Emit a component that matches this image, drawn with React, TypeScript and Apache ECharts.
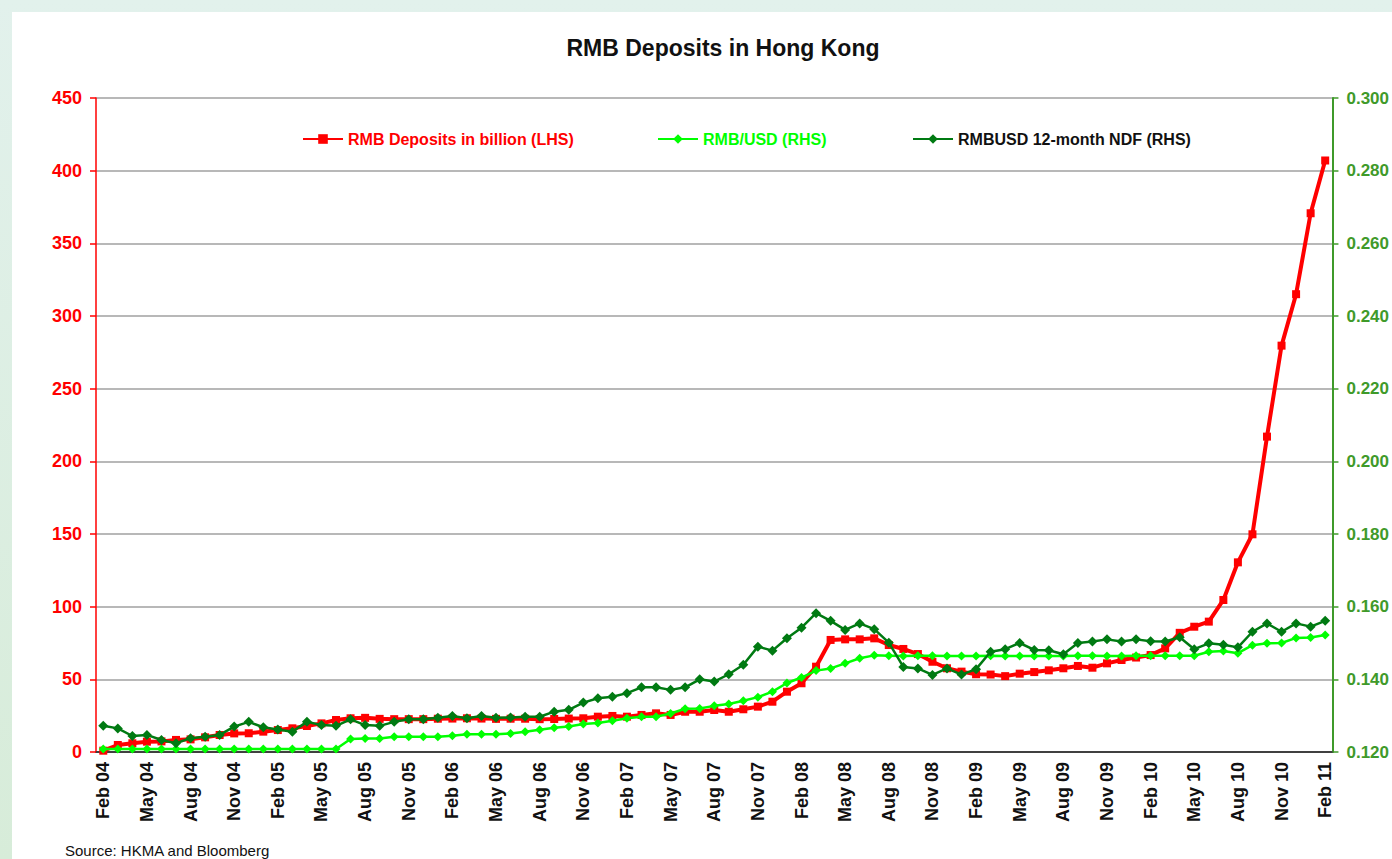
import React, { useEffect, useRef } from "react";
import * as echarts from "echarts";

const FONT = "'Liberation Sans', Arial, sans-serif";

const months: string[] = [
  "Feb 04", "Mar 04", "Apr 04", "May 04", "Jun 04", "Jul 04", "Aug 04", "Sep 04", "Oct 04", "Nov 04", "Dec 04",
  "Jan 05", "Feb 05", "Mar 05", "Apr 05", "May 05", "Jun 05", "Jul 05", "Aug 05", "Sep 05", "Oct 05", "Nov 05", "Dec 05",
  "Jan 06", "Feb 06", "Mar 06", "Apr 06", "May 06", "Jun 06", "Jul 06", "Aug 06", "Sep 06", "Oct 06", "Nov 06", "Dec 06",
  "Jan 07", "Feb 07", "Mar 07", "Apr 07", "May 07", "Jun 07", "Jul 07", "Aug 07", "Sep 07", "Oct 07", "Nov 07", "Dec 07",
  "Jan 08", "Feb 08", "Mar 08", "Apr 08", "May 08", "Jun 08", "Jul 08", "Aug 08", "Sep 08", "Oct 08", "Nov 08", "Dec 08",
  "Jan 09", "Feb 09", "Mar 09", "Apr 09", "May 09", "Jun 09", "Jul 09", "Aug 09", "Sep 09", "Oct 09", "Nov 09", "Dec 09",
  "Jan 10", "Feb 10", "Mar 10", "Apr 10", "May 10", "Jun 10", "Jul 10", "Aug 10", "Sep 10", "Oct 10", "Nov 10", "Dec 10",
  "Jan 11", "Feb 11",
];

const depositsBn: number[] = [
  0.9, 4.8, 6.0, 7.1, 7.3, 8.3, 8.7, 10.1, 11.7, 12.8, 12.9,
  14.0, 15.1, 16.3, 17.9, 19.7, 22.0, 23.2, 23.5, 22.8, 22.6, 22.6, 22.6,
  22.9, 23.0, 23.2, 23.0, 22.8, 22.9, 22.9, 22.6, 22.7, 23.0, 23.2, 24.3,
  24.8, 24.3, 25.5, 26.6, 25.5, 27.7, 27.7, 28.9, 27.7, 29.4, 31.2, 34.6,
  41.5, 47.3, 58.7, 77.1, 77.5, 77.5, 78.2, 73.6, 70.9, 67.4, 62.1, 57.6,
  55.3, 53.5, 53.3, 52.2, 53.9, 55.0, 56.2, 57.6, 59.2, 58.0, 61.0, 63.3,
  65.0, 66.7, 71.3, 82.0, 86.2, 89.7, 104.6, 130.5, 149.8, 217.0, 279.6, 315.0,
  370.7, 407.0,
];

const rmbUsd: number[] = [
  0.1208, 0.1208, 0.1208, 0.1208, 0.1208, 0.1208, 0.1208, 0.1208, 0.1208, 0.1208, 0.1208,
  0.1208, 0.1208, 0.1208, 0.1208, 0.1208, 0.1208, 0.1236, 0.1237, 0.1237, 0.1242, 0.1242, 0.1242,
  0.1242, 0.1245, 0.1249, 0.1249, 0.1249, 0.1251, 0.1256, 0.1261, 0.1267, 0.1270, 0.1277, 0.1280,
  0.1286, 0.1293, 0.1297, 0.1297, 0.1306, 0.1319, 0.1320, 0.1327, 0.1332, 0.1341, 0.1351, 0.1366,
  0.1390, 0.1405, 0.1424, 0.1430, 0.1444, 0.1458, 0.1466, 0.1465, 0.1464, 0.1465, 0.1465, 0.1464,
  0.1464, 0.1464, 0.1465, 0.1464, 0.1464, 0.1464, 0.1464, 0.1464, 0.1465, 0.1465, 0.1464, 0.1464,
  0.1465, 0.1465, 0.1465, 0.1465, 0.1465, 0.1476, 0.1478, 0.1472, 0.1494, 0.1499, 0.1500, 0.1514,
  0.1515, 0.1522,
];

const ndf12m: number[] = [
  0.1272, 0.1265, 0.1244, 0.1247, 0.1233, 0.1224, 0.1238, 0.1242, 0.1247, 0.1270, 0.1283,
  0.1268, 0.1262, 0.1256, 0.1283, 0.1274, 0.1272, 0.1290, 0.1274, 0.1272, 0.1283, 0.1290, 0.1290,
  0.1294, 0.1299, 0.1293, 0.1299, 0.1294, 0.1295, 0.1297, 0.1297, 0.1311, 0.1316, 0.1336, 0.1348,
  0.1352, 0.1362, 0.1378, 0.1378, 0.1371, 0.1378, 0.1400, 0.1394, 0.1414, 0.1440, 0.1490, 0.1479,
  0.1513, 0.1542, 0.1582, 0.1561, 0.1536, 0.1554, 0.1538, 0.1501, 0.1434, 0.1430, 0.1412, 0.1430,
  0.1413, 0.1428, 0.1476, 0.1483, 0.1500, 0.1481, 0.1480, 0.1469, 0.1500, 0.1504, 0.1510, 0.1504,
  0.1510, 0.1505, 0.1504, 0.1516, 0.1483, 0.1499, 0.1495, 0.1488, 0.1531, 0.1554, 0.1531, 0.1554,
  0.1545, 0.1561,
];

const seriesNames = [
  "RMB Deposits in billion (LHS)",
  "RMB/USD (RHS)",
  "RMBUSD 12-month NDF (RHS)",
];

const RED = "#ff0000";
const LIME = "#00ff00";
const DARK = "#007a12";
const RIGHT_AXIS = "#3f9a2a";

export default function App() {
  const ref = useRef<HTMLDivElement>(null);

  useEffect(() => {
    document.body.style.margin = "0";
    const chart = echarts.init(ref.current!, null, { renderer: "svg" });
    const legendBase = {
      top: 126,
      itemWidth: 40,
      itemHeight: 12,
      itemGap: 0,
    };
    chart.setOption({
      animation: false,
      backgroundColor: "transparent",
      textStyle: { fontFamily: FONT },
      grid: { left: 96, right: 59, top: 98, bottom: 107, containLabel: false },
      legend: [
        {
          ...legendBase,
          left: 297,
          data: [{ name: seriesNames[0], textStyle: { color: RED } }],
          textStyle: { fontSize: 16, fontWeight: "bold", fontFamily: FONT, color: RED },
        },
        {
          ...legendBase,
          left: 652,
          data: [{ name: seriesNames[1], textStyle: { color: LIME } }],
          textStyle: { fontSize: 16, fontWeight: "bold", fontFamily: FONT, color: LIME },
        },
        {
          ...legendBase,
          left: 907,
          data: [{ name: seriesNames[2], textStyle: { color: "#111" } }],
          textStyle: { fontSize: 16, fontWeight: "bold", fontFamily: FONT, color: "#111" },
        },
      ],
      graphic: [
        {
          type: "text",
          x: 723,
          y: 48,
          style: {
            text: "RMB Deposits in Hong Kong",
            font: `bold 23px ${FONT}`,
            fill: "#111",
            align: "center",
            verticalAlign: "middle",
          },
        },
        {
          type: "text",
          x: 65,
          y: 850,
          style: {
            text: "Source: HKMA and Bloomberg",
            font: `15px ${FONT}`,
            fill: "#111",
            align: "left",
            verticalAlign: "middle",
          },
        },
      ],
      xAxis: {
        type: "category",
        data: months,
        boundaryGap: true,
        axisLine: { lineStyle: { color: "#404040", width: 2 } },
        axisTick: { interval: 2, length: 6, lineStyle: { color: "#202020", width: 1.5 } },
        axisLabel: {
          interval: 2,
          rotate: 90,
          margin: 10,
          color: "#111",
          fontSize: 18,
          fontWeight: "bold",
          fontFamily: FONT,
        },
        splitLine: { show: false },
      },
      yAxis: [
        {
          type: "value",
          min: 0,
          max: 450,
          interval: 50,
          position: "left",
          axisLine: { show: true, lineStyle: { color: RED, width: 1.5 } },
          axisTick: { show: true, length: 6, lineStyle: { color: RED, width: 1.5 } },
          axisLabel: { color: RED, fontSize: 18, fontWeight: "bold", fontFamily: FONT, margin: 14 },
          splitLine: { show: true, lineStyle: { color: "#a0a0a0", width: 1.5 } },
        },
        {
          type: "value",
          min: 0.12,
          max: 0.3,
          interval: 0.02,
          position: "right",
          axisLine: { show: true, lineStyle: { color: RIGHT_AXIS, width: 2 } },
          axisTick: { show: true, length: 6, lineStyle: { color: RIGHT_AXIS, width: 1.5 } },
          axisLabel: {
            color: RIGHT_AXIS,
            fontSize: 17,
            fontWeight: "bold",
            fontFamily: FONT,
            margin: 14,
            formatter: (v: number) => v.toFixed(3),
          },
          splitLine: { show: false },
        },
      ],
      series: [
        {
          name: seriesNames[0],
          type: "line",
          yAxisIndex: 0,
          data: depositsBn,
          symbol: "rect",
          symbolSize: 8,
          showAllSymbol: true,
          z: 2,
          itemStyle: { color: RED },
          lineStyle: { color: RED, width: 4 },
        },
        {
          name: seriesNames[1],
          type: "line",
          yAxisIndex: 1,
          data: rmbUsd,
          symbol: "diamond",
          symbolSize: 9,
          showAllSymbol: true,
          z: 3,
          itemStyle: { color: LIME },
          lineStyle: { color: LIME, width: 2.5 },
        },
        {
          name: seriesNames[2],
          type: "line",
          yAxisIndex: 1,
          data: ndf12m,
          symbol: "diamond",
          symbolSize: 10,
          showAllSymbol: true,
          z: 4,
          itemStyle: { color: DARK },
          lineStyle: { color: DARK, width: 2.5 },
        },
      ],
    });
    return () => chart.dispose();
  }, []);

  return (
    <div
      style={{
        position: "relative",
        width: 1392,
        height: 859,
        overflow: "hidden",
        background: "linear-gradient(180deg, #e2f1ec 0%, #d7ecd9 100%)",
      }}
    >
      <div
        style={{
          position: "absolute",
          left: 12,
          top: 12,
          right: 0,
          bottom: 0,
          background: "#ffffff",
        }}
      />
      <div
        ref={ref}
        style={{ position: "absolute", left: 0, top: 0, width: 1392, height: 859 }}
      />
    </div>
  );
}
